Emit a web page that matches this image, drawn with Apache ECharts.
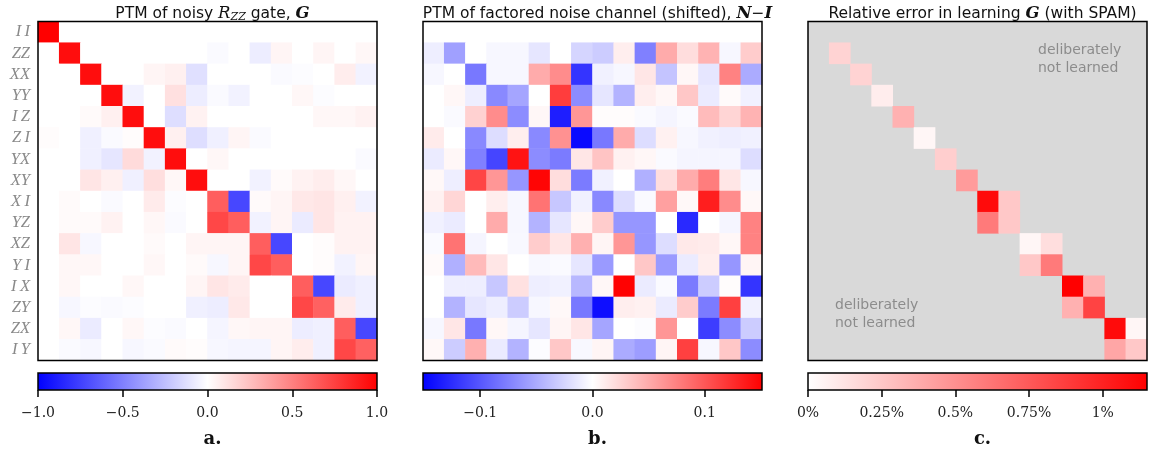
<!DOCTYPE html>
<html>
<head>
<meta charset="utf-8">
<script src="https://cdn.jsdelivr.net/npm/echarts@6/dist/echarts.min.js"></script>
<style>
  html, body { margin: 0; padding: 0; background: #fff; }
  #chart { width: 1149px; height: 450px; }
</style>
</head>
<body>
<div id="chart"></div>
<script>
// Pauli labels, rows of every panel
const paulis = ['II', 'ZZ', 'XX', 'YY', 'IZ', 'ZI', 'YX', 'XY', 'XI', 'YZ', 'XZ', 'YI', 'IX', 'ZY', 'ZX', 'IY']

// panel a: PTM of noisy R_ZZ gate (row = output, col = input)
const gateG = [
  [1.00, 0, 0, 0, 0, 0, 0, 0, 0, 0, 0, 0, 0, 0, 0, 0],
  [0, 0.95, 0, 0, 0, 0, 0, 0, -0.02, 0, -0.07, 0.04, 0, 0.04, 0, 0.03],
  [0, 0, 0.95, 0, 0, 0.04, 0.06, -0.12, 0, 0, 0, -0.02, -0.01, 0, 0.07, -0.05],
  [0, 0, 0, 0.95, -0.05, 0, 0.12, -0.07, -0.02, -0.05, 0, 0, 0.03, -0.01, 0, 0],
  [0, 0, 0.02, 0.06, 0.95, 0, -0.13, 0.05, 0, 0, 0, 0, 0, 0.03, 0.03, 0.05],
  [0.01, 0, -0.06, -0.02, 0.01, 0.95, 0.06, -0.13, -0.06, 0.04, -0.02, 0, 0, 0, 0, 0],
  [0, 0, -0.06, -0.10, 0.14, -0.05, 0.95, 0, 0.03, 0, 0, 0, 0, 0, 0, -0.02],
  [0, 0, 0.10, 0.06, -0.06, 0.13, 0.03, 0.95, 0, 0, -0.05, 0.02, 0.05, 0.07, 0.03, 0],
  [0, 0.02, 0, -0.02, 0, 0.08, -0.01, 0, 0.63, -0.72, 0.02, 0.04, 0.09, 0.10, 0.06, -0.05],
  [0, 0.02, 0.02, 0.05, 0, 0.03, -0.02, 0, 0.72, 0.63, -0.05, 0.04, -0.08, 0.10, 0.05, 0.05],
  [0, 0.10, -0.03, 0, 0, 0.02, 0, 0.04, 0.04, 0.04, 0.63, -0.72, 0, 0.01, 0.05, 0.05],
  [0, 0.03, 0.03, 0, 0, 0.03, 0, 0.02, -0.03, 0.04, 0.72, 0.63, 0, 0.01, -0.05, 0.04],
  [0, 0.03, 0, 0, 0.03, 0, 0, 0.04, 0.10, 0.08, 0, 0, 0.63, -0.72, -0.08, -0.06],
  [0, -0.03, -0.01, -0.02, -0.01, 0, 0, -0.06, -0.07, 0.09, 0, 0, 0.72, 0.62, 0.08, -0.06],
  [0, 0.03, -0.08, 0, 0.03, -0.01, -0.02, 0, -0.04, 0.03, 0.04, 0.04, -0.07, -0.06, 0.63, -0.72],
  [0, -0.02, -0.03, 0, -0.03, -0.02, 0.02, 0.01, -0.03, -0.04, -0.04, 0.04, 0.07, -0.06, 0.72, 0.62],
]

// panel b: factored noise channel minus identity
const noiseNI = [
  [0, 0, 0, 0, 0, 0, 0, 0, 0, 0, 0, 0, 0, 0, 0, 0],
  [-0.01, -0.056, 0, -0.005, -0.005, -0.015, 0, -0.025, -0.03, 0.01, -0.075, 0.05, 0.02, 0.045, -0.005, 0.03],
  [-0.005, 0, -0.08, -0.005, -0.005, 0.05, 0.068, -0.12, -0.008, -0.005, 0.015, -0.035, 0.005, -0.015, 0.074, -0.05],
  [0, 0.005, -0.01, -0.07, -0.053, 0, 0.115, -0.068, -0.015, -0.045, 0.01, 0.005, 0.033, -0.012, 0.003, -0.008],
  [0, -0.003, 0.027, 0.068, -0.068, 0.005, -0.133, 0.062, 0.002, 0.002, -0.003, -0.006, -0.003, 0.04, 0.025, 0.045],
  [0.012, 0, -0.07, -0.02, 0.01, -0.07, 0.065, -0.145, -0.08, 0.05, -0.02, 0.008, -0.005, -0.008, -0.01, -0.008],
  [-0.012, 0.005, -0.075, -0.11, 0.14, -0.068, -0.078, 0.015, 0.035, 0.008, 0.005, -0.003, -0.006, -0.006, -0.006, -0.02],
  [0.004, -0.01, 0.11, 0.062, -0.062, 0.148, 0.02, -0.078, -0.008, 0, -0.047, 0.02, 0.05, 0.077, 0.015, -0.005],
  [0.008, 0.024, 0, 0.01, -0.005, 0.083, -0.033, -0.008, -0.07, -0.02, -0.003, 0.056, 0.004, 0.133, 0.068, 0.004],
  [-0.008, -0.012, 0, 0.05, -0.005, -0.045, -0.015, 0.005, 0.03, -0.062, -0.062, 0, -0.127, 0, -0.006, 0.074],
  [-0.003, 0.083, -0.006, 0, -0.004, 0.03, 0.015, 0.047, 0.006, 0.062, -0.062, -0.02, 0.013, 0.012, 0.005, 0.074],
  [0.003, -0.047, 0.041, 0.015, 0, -0.004, -0.003, -0.015, -0.06, 0, 0.033, -0.06, -0.012, 0.01, -0.062, 0.006],
  [0, -0.01, -0.01, -0.033, 0.018, -0.01, -0.008, -0.042, 0.005, 0.15, -0.012, -0.003, -0.078, -0.03, 0.002, -0.12],
  [0, -0.045, -0.015, -0.01, -0.03, -0.005, 0.004, -0.08, -0.143, 0.01, 0.008, -0.012, 0.03, -0.078, 0.113, -0.008],
  [-0.005, 0.015, -0.08, 0.005, -0.006, -0.015, 0.006, 0.015, -0.053, 0, -0.002, 0.062, 0, -0.115, -0.068, -0.03],
  [0.004, -0.03, 0.047, -0.012, -0.045, -0.002, 0.033, -0.004, 0.006, -0.05, -0.058, 0.006, 0.113, -0.005, 0.033, -0.068],
]

// panel c: relative error (%) of the learned entries, [row, col, value]
const relErrCells = [
  [1, 1, 0.20], [2, 2, 0.20], [3, 3, 0.08], [4, 4, 0.35], [5, 5, 0.04], [6, 6, 0.22], [7, 7, 0.45],
  [8, 8, 1.10], [8, 9, 0.25], [9, 8, 0.60], [9, 9, 0.25],
  [10, 10, 0.04], [10, 11, 0.15], [11, 10, 0.25], [11, 11, 0.60],
  [12, 12, 1.15], [12, 13, 0.35], [13, 12, 0.35], [13, 13, 0.85],
  [14, 14, 1.10], [14, 15, 0.04], [15, 14, 0.40], [15, 15, 0.25],
]

// colorbar ranges and ticks
const rangeA = [-1, 1], ticksA = [-1, -0.5, 0, 0.5, 1]
const rangeB = [-0.151, 0.151], ticksB = [-0.1, 0, 0.1]
const rangeC = [0, 1.15], ticksC = [0, 0.25, 0.5, 0.75, 1]

const panelLeft = [38, 423, 808]
const size = 339
const gridTop = 21.5

const bwr = ['#0000ff', '#ffffff', '#ff0000']
const wr = ['#ffffff', '#ff0000']

function matToData(m) {
  let out = []
  m.forEach((row, r) => row.forEach((v, c) => out.push([c, r, v])))
  return out
}

// italic I gets a bit of air around it, as in the math font
function paulLabel(s) {
  return s[0] === 'I' || s[1] === 'I' ? s[0] + '\u2009' + s[1] : s
}

function minus(v, digits) {
  let s = digits == null ? String(v) : v.toFixed(digits)
  return s.replace('-', '\u2212')
}

let idx = paulis.map((p, i) => i)

let grids = [], xAxes = [], yAxes = []
panelLeft.forEach((left, i) => {
  grids.push({
    left: left, top: gridTop, width: size, height: size, show: true, z: 5,
    backgroundColor: 'transparent', borderColor: '#000', borderWidth: 1.5, containLabel: false,
  })
  xAxes.push({
    type: 'category', gridIndex: i, data: idx,
    axisLine: {show: false}, axisTick: {show: false}, axisLabel: {show: false},
    splitArea: i === 2 ? {show: true, areaStyle: {color: ['#d9d9d9']}} : {show: false},
  })
  yAxes.push({
    type: 'category', gridIndex: i, data: paulis, inverse: true,
    axisLine: {show: false}, axisTick: {show: false},
    axisLabel: {
      show: i === 0, interval: 0, margin: 8, formatter: paulLabel,
      fontFamily: 'Liberation Serif', fontStyle: 'italic', fontSize: 16.5, color: '#8a8a8a',
    },
  })
})

// colorbars
let cbar = [
  {range: rangeA, ticks: ticksA, colors: bwr, fmt: v => minus(v, 1)},
  {range: rangeB, ticks: ticksB, colors: bwr, fmt: v => minus(v, 1)},
  {range: rangeC, ticks: ticksC, colors: wr, fmt: v => v + '%'},
]
cbar.forEach((cb, i) => {
  let stops = cb.colors.map((c, k) => ({offset: k / (cb.colors.length - 1), color: c}))
  grids.push({
    left: panelLeft[i], top: 373, width: size, height: 17, show: true, z: 5,
    backgroundColor: new echarts.graphic.LinearGradient(0, 0, 1, 0, stops),
    borderColor: '#000', borderWidth: 1.5,
  })
  xAxes.push({
    type: 'value', gridIndex: 3 + i, min: cb.range[0], max: cb.range[1], position: 'bottom',
    axisLine: {show: false}, splitLine: {show: false},
    axisTick: {show: true, length: 7, customValues: cb.ticks, lineStyle: {color: '#000', width: 1.5}},
    axisLabel: {
      show: true, customValues: cb.ticks, formatter: cb.fmt, margin: 16,
      fontFamily: 'DejaVu Serif', fontSize: 14, color: '#222',
    },
  })
  yAxes.push({type: 'value', gridIndex: 3 + i, show: false})
})

let series = [
  {type: 'heatmap', xAxisIndex: 0, yAxisIndex: 0, data: matToData(gateG)},
  {type: 'heatmap', xAxisIndex: 1, yAxisIndex: 1, data: matToData(noiseNI)},
  {type: 'heatmap', xAxisIndex: 2, yAxisIndex: 2, data: relErrCells.map(d => [d[1], d[0], d[2]])},
].map(s => Object.assign(s, {emphasis: {disabled: true}, progressive: 0, animation: false}))

let visualMaps = [
  {seriesIndex: 0, min: rangeA[0], max: rangeA[1], inRange: {color: bwr}},
  {seriesIndex: 1, min: rangeB[0], max: rangeB[1], inRange: {color: bwr}},
  {seriesIndex: 2, min: rangeC[0], max: rangeC[1], inRange: {color: wr}},
].map(v => Object.assign(v, {type: 'continuous', show: false, dimension: 2}))

let titleRich = {
  t: {fontFamily: 'DejaVu Sans', fontWeight: 'normal', fontSize: 15.5, color: '#111'},
  m: {fontFamily: 'DejaVu Serif', fontStyle: 'italic', fontWeight: 'normal', fontSize: 16.5, color: '#111'},
  s: {fontFamily: 'DejaVu Serif', fontStyle: 'italic', fontWeight: 'normal', fontSize: 11, color: '#111', verticalAlign: 'bottom', padding: [7, 0, 0, 0]},
  b: {fontFamily: 'DejaVu Serif', fontStyle: 'italic', fontWeight: 'bold', fontSize: 16.5, color: '#111'},
}
let titleTexts = [
  '{t|PTM of noisy }{m|R}{s|ZZ}{t| gate, }{b|G}',
  '{t|PTM of factored noise channel (shifted), }{b|N}{t|\u2212}{b|I}',
  '{t|Relative error in learning }{b|G}{t| (with SPAM)}',
]
let titles = []
panelLeft.forEach((left, i) => {
  titles.push({
    text: titleTexts[i], left: left + size / 2, top: 0, textAlign: 'center',
    textStyle: {fontWeight: 'normal', rich: titleRich},
  })
  titles.push({
    text: ['a.', 'b.', 'c.'][i], left: left + size / 2, top: 425, textAlign: 'center',
    textStyle: {fontFamily: 'DejaVu Serif', fontWeight: 'bold', fontSize: 18, color: '#111'},
  })
})

let noteStyle = {fontFamily: 'DejaVu Sans', fontSize: 14, fill: '#8c8c8c', lineHeight: 18, text: 'deliberately\nnot learned'}

let chart = echarts.init(document.getElementById('chart'), null, {renderer: 'canvas'})
chart.setOption({
  animation: false,
  title: titles,
  grid: grids,
  xAxis: xAxes,
  yAxis: yAxes,
  visualMap: visualMaps,
  series: series,
  graphic: [
    {type: 'text', left: 1038, top: 41, z: 10, style: noteStyle},
    {type: 'text', left: 835, top: 296, z: 10, style: noteStyle},
  ],
})
</script>
</body>
</html>
